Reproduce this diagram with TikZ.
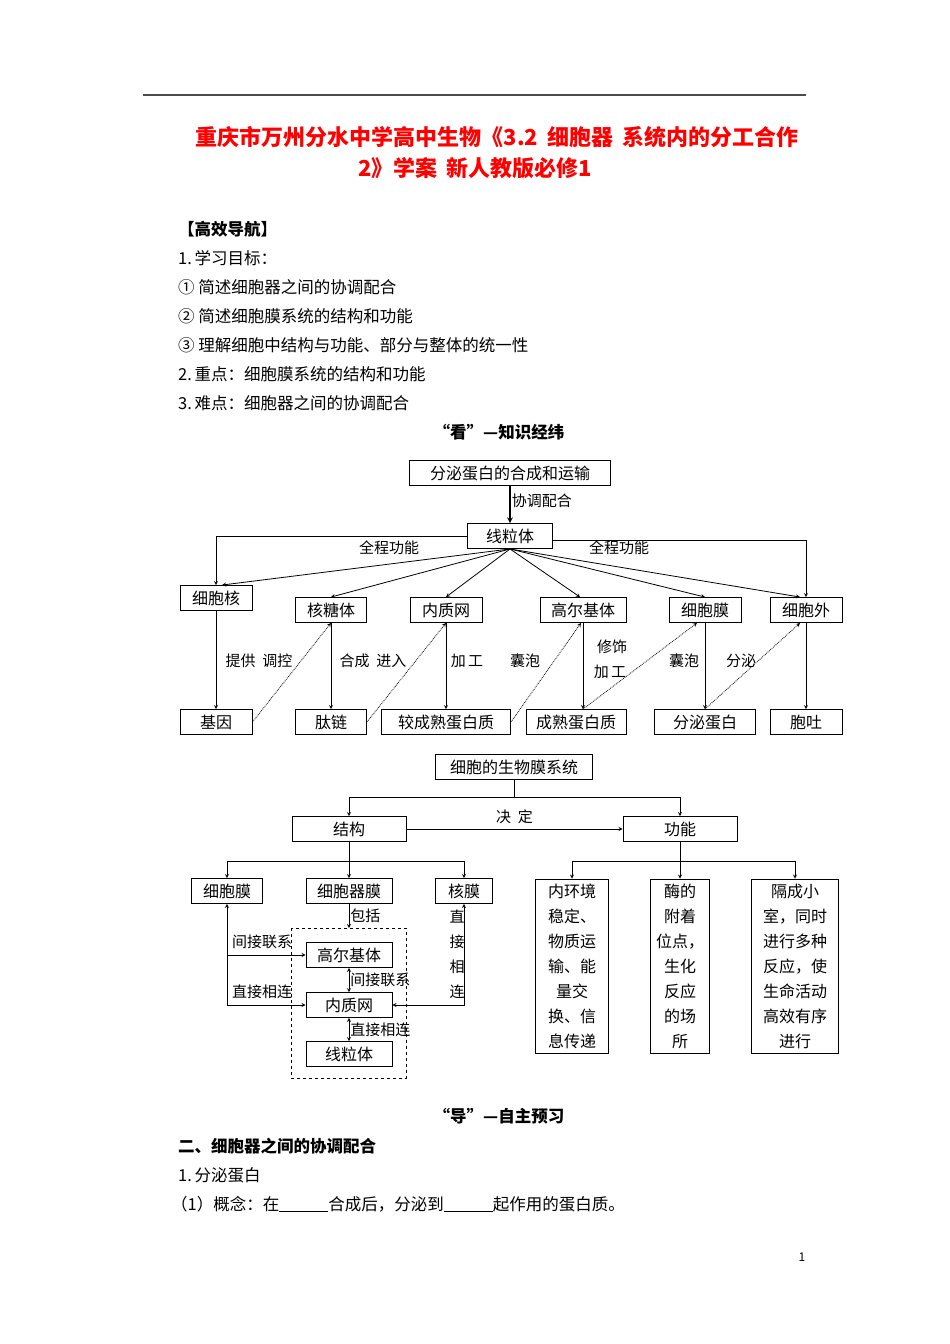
\documentclass[tikz,border=0pt]{standalone}
\usepackage{fontspec}
\setmainfont{Noto Sans CJK SC}
\begin{document}
\begin{tikzpicture}[x=1pt,y=-1pt,font=\fontsize{16}{20}\selectfont]
    \tikzstyle{box}=[rectangle,draw,line width=0.9pt,minimum height=25pt,inner sep=0pt];
    \tikzstyle{tallbox}=[box,minimum height=174pt,align=center,font=\fontsize{16}{25}\selectfont];
    \tikzstyle{flow}=[->,line width=0.8pt,>=stealth];
    \tikzstyle{hint}=[->,densely dotted,line width=0.8pt,>=stealth];
    \tikzstyle{lbl}=[font=\fontsize{15}{18}\selectfont,inner sep=1pt];
    \tikzstyle{txt}=[anchor=west,inner sep=0pt,font=\fontsize{16.5}{20}\selectfont];
    \tikzstyle{head}=[font=\fontsize{16.5}{20}\selectfont\bfseries,inner sep=0pt];
    \tikzstyle{title}=[font=\fontsize{22}{24}\selectfont\bfseries,text=red,inner sep=0pt];
    \tikzstyle{group}=[dashed,line width=0.8pt];

    \useasboundingbox[fill=white] (0,0) rectangle (950,1344);

    % page head
    \draw[gray!60!black,line width=2pt] (143,95) -- (806,95);
    \node[title] (t1) at (497,137) {重庆市万州分水中学高中生物《3.2\hspace{9pt}细胞器\hspace{9pt}系统内的分工合作};
    \node[title] (t2) at (475,168) {2》学案\hspace{9pt}新人教版必修1};

    \node[head,anchor=west] (nav) at (178,229) {【高效导航】};
    \node[txt] (g1) at (178,258) {1.\,学习目标：};
    \node[txt] (g2) at (178,287) {① 简述细胞器之间的协调配合};
    \node[txt] (g3) at (178,316) {② 简述细胞膜系统的结构和功能};
    \node[txt] (g4) at (178,345) {③ 理解细胞中结构与功能、部分与整体的统一性};
    \node[txt] (g5) at (178,374) {2.\,重点：细胞膜系统的结构和功能};
    \node[txt] (g6) at (178,403) {3.\,难点：细胞器之间的协调配合};
    \node[head] (look) at (499,432) {“看”—知识经纬};

    % secretory protein chart
    \node[box,minimum width=201pt] (sec) at (510,473) {分泌蛋白的合成和运输};
    \node[box,minimum width=85pt] (mito) at (510,536) {线粒体};

    \node[box,minimum width=72pt] (nuc) at (216,598) {细胞核};
    \node[box,minimum width=71pt] (ribo) at (331,610) {核糖体};
    \node[box,minimum width=72pt] (er) at (446,610) {内质网};
    \node[box,minimum width=86pt] (golgi) at (583,610) {高尔基体};
    \node[box,minimum width=72pt] (pm) at (705,610) {细胞膜};
    \node[box,minimum width=72pt] (out) at (806,610) {细胞外};

    \node[box,minimum width=72pt] (gene) at (216,722) {基因};
    \node[box,minimum width=71pt] (pep) at (331,722) {肽链};
    \node[box,minimum width=129pt] (pre) at (446,722) {较成熟蛋白质};
    \node[box,minimum width=100pt] (mat) at (576,722) {成熟蛋白质};
    \node[box,minimum width=101pt] (secp) at (705,722) {分泌蛋白};
    \node[box,minimum width=72pt] (exo) at (806,722) {胞吐};

    \draw[flow,line width=1.5pt] (sec) -- node[lbl,right,yshift=4pt] {协调配合} (mito);
    \draw[flow] (mito.west) -| (nuc.north);
    \draw[flow] ([yshift=-4pt]mito.east) -| (out.north);
    \draw[flow] (mito.south) -- ([xshift=6pt]nuc.north);
    \draw[flow] (mito.south) -- (ribo.north);
    \draw[flow] (mito.south) -- (er.north);
    \draw[flow] (mito.south) -- ([xshift=-3pt]golgi.north);
    \draw[flow] (mito.south) -- (pm.north);
    \draw[flow] (mito.south) -- ([xshift=-6pt]out.north);
    \node[lbl] (all1) at (389,548) {全程功能};
    \node[lbl] (all2) at (619,548) {全程功能};

    \draw[flow] (nuc) -- (gene);
    \draw[flow] (ribo) -- (pep);
    \draw[flow] (er) -- (pre);
    \draw[flow] (golgi.south) -- (golgi.south |- mat.north);
    \draw[flow] (pm) -- (secp);
    \draw[flow] (out) -- (exo);

    \draw[hint] (gene.east) -- (ribo.south);
    \draw[hint] (pep.east) -- (er.south);
    \draw[hint] (pre.east) -- ([xshift=-2pt]golgi.south);
    \draw[hint] ([xshift=7pt]mat.north) -- ([xshift=-8pt]pm.south);
    \draw[hint] (secp.north) -- ([xshift=-6pt]out.south);

    \node[lbl] (l1) at (259,661) {提供\ \ 调控};
    \node[lbl] (l2) at (373,661) {合成\ \ 进入};
    \node[lbl] (l3) at (467,661) {加\,工};
    \node[lbl] (l4) at (525,661) {囊泡};
    \node[lbl] (l5) at (612,647) {修饰};
    \node[lbl] (l6) at (610,672) {加\,工};
    \node[lbl] (l7) at (684,661) {囊泡};
    \node[lbl] (l8) at (741,661) {分泌};

    % membrane system chart
    \node[box,minimum width=157pt] (mem) at (514,767) {细胞的生物膜系统};
    \node[box,minimum width=114pt] (struct) at (349,829) {结构};
    \node[box,minimum width=114pt] (func) at (680,829) {功能};
    \coordinate (j1) at (514,797);
    \draw (mem.south) -- (j1);
    \draw[flow] (j1) -| (struct.north);
    \draw[flow] (j1) -| (func.north);
    \draw[flow] (struct) -- node[lbl,above=4pt] {决\ \ 定} (func);

    \node[box,minimum width=71pt] (cm) at (227,891) {细胞膜};
    \node[box,minimum width=86pt] (om) at (349,891) {细胞器膜};
    \node[box,minimum width=57pt] (nm) at (464,891) {核膜};
    \coordinate (j2) at (349,861);
    \draw (struct.south) -- (j2);
    \draw[flow] (j2) -| (cm.north);
    \draw[flow] (j2) -- (om.north);
    \draw[flow] (j2) -| (nm.north);

    \draw[group] (291,928) rectangle (406,1078);
    \coordinate (grp) at (349,928);
    \node[box,minimum width=86pt] (golgi2) at (349,955) {高尔基体};
    \node[box,minimum width=86pt] (er2) at (349,1005) {内质网};
    \node[box,minimum width=86pt] (mito2) at (349,1054) {线粒体};

    \draw[flow] (om.south) -- node[lbl,right] {包括} (grp);
    \draw[flow,<->] (golgi2) -- node[lbl,right] {间接联系} (er2);
    \draw[flow,<->] (er2) -- node[lbl,right] {直接相连} (mito2);
    \draw[flow,<->] (cm.south) -- (cm.south |- er2.west) -- (er2.west);
    \draw[flow] (cm.south |- golgi2.west) -- (golgi2.west);
    \node[lbl] (l9) at (262,942) {间接联系};
    \node[lbl] (l10) at (262,992) {直接相连};
    \draw[flow,<->] (nm.south) -- (nm.south |- er2.east) -- (er2.east);
    \node[lbl,align=center,font=\fontsize{15}{25}\selectfont] (l11) at (457,954) {直\\接\\相\\连};

    \node[tallbox,minimum width=73pt] (fa) at (572,966) {内环境\\稳定、\\物质运\\输、能\\量交\\换、信\\息传递};
    \node[tallbox,minimum width=59pt] (fb) at (680,966) {酶的\\附着\\位点，\\生化\\反应\\的场\\所};
    \node[tallbox,minimum width=87pt] (fc) at (795,966) {隔成小\\室，同时\\进行多种\\反应，使\\生命活动\\高效有序\\进行};
    \coordinate (j3) at (680,861);
    \draw (func.south) -- (j3);
    \draw[flow] (j3) -| (fa.north);
    \draw[flow] (j3) -- (fb.north);
    \draw[flow] (j3) -| (fc.north);

    % page foot
    \node[head] (guide) at (499,1116) {“导”—自主预习};
    \node[head,anchor=west] (sub) at (178,1146) {二、细胞器之间的协调配合};
    \node[txt] (p1) at (178,1175) {1.\,分泌蛋白};
    \node[txt] (p2) at (171,1204) {（1）概念：在\underline{\hspace{49pt}}合成后，分泌到\underline{\hspace{49pt}}起作用的蛋白质。};
    \node[font=\fontsize{12}{14}\selectfont,inner sep=0pt] (pg) at (802,1257) {1};
\end{tikzpicture}
\end{document}
